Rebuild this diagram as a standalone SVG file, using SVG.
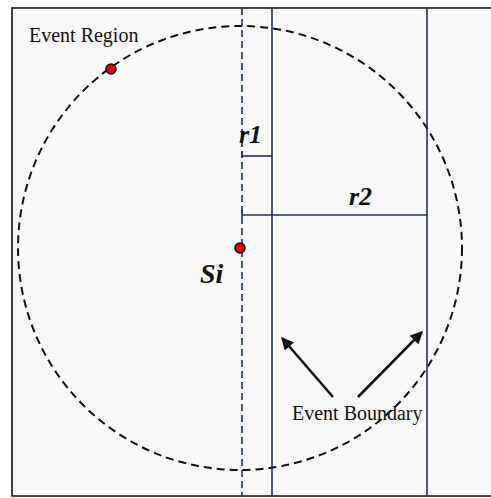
<svg xmlns="http://www.w3.org/2000/svg" width="491" height="498" viewBox="0 0 491 498">
<defs>
<style>
.frame{fill:#f9f9f9;stroke:#111;stroke-width:1.6}
.blue{stroke:#1f2f6e;stroke-width:1.6;fill:none}
.bdash{stroke:#1f2f6e;stroke-width:1.6;stroke-dasharray:7 4;fill:none}
.circ{stroke:#111;stroke-width:2;stroke-dasharray:8 5;fill:none}
.dot{fill:#ee0000;stroke:#111;stroke-width:1.6}
.lbl{font-family:"Liberation Serif",serif;font-size:20px;fill:#111}
.var{font-family:"Liberation Serif",serif;font-size:26px;font-weight:bold;font-style:italic;fill:#111}
.arr{stroke:#111;stroke-width:2.5;fill:none;marker-end:url(#ah)}
</style>
<marker id="ah" viewBox="0 0 10 10" refX="9" refY="5" markerWidth="5.5" markerHeight="5" orient="auto" markerUnits="strokeWidth">
<path d="M0,0 L10,5 L0,10 z" fill="#111"/>
</marker>
</defs>
<rect x="0" y="0" width="491" height="498" fill="#ffffff"/>
<g id="frame">
<path class="frame" d="M492,8 L12,8 L12,496 L492,496"/>
</g>
<g id="event-region">
<circle class="circ" cx="240" cy="248" r="222"/>
<text class="lbl" x="29" y="42">Event Region</text>
</g>
<g id="boundaries">
<line class="bdash" x1="242" y1="8" x2="242" y2="496"/>
<line class="blue" x1="272" y1="8" x2="272" y2="496"/>
<line class="blue" x1="427" y1="8" x2="427" y2="496"/>
</g>
<g id="r1">
<line class="blue" x1="242" y1="156" x2="272" y2="156"/>
<line class="blue" x1="242" y1="151" x2="242" y2="158"/>
<text class="var" x="239" y="143">r1</text>
</g>
<g id="r2">
<line class="blue" x1="242" y1="215" x2="427" y2="215"/>
<line class="blue" x1="242" y1="210" x2="242" y2="217"/>
<text class="var" x="349" y="205">r2</text>
</g>
<g id="sensor-si">
<circle class="dot" cx="240" cy="248" r="5"/>
<text class="var" x="200" y="283" style="font-size:28px">Si</text>
</g>
<g id="sensor-top">
<circle class="dot" cx="111" cy="69" r="5"/>
</g>
<g id="event-boundary-label">
<text class="lbl" x="292" y="420">Event Boundary</text>
</g>
<g id="connectors">
<line class="arr" x1="333" y1="397" x2="282" y2="338"/>
<line class="arr" x1="358" y1="397" x2="422" y2="332"/>
</g>
</svg>
